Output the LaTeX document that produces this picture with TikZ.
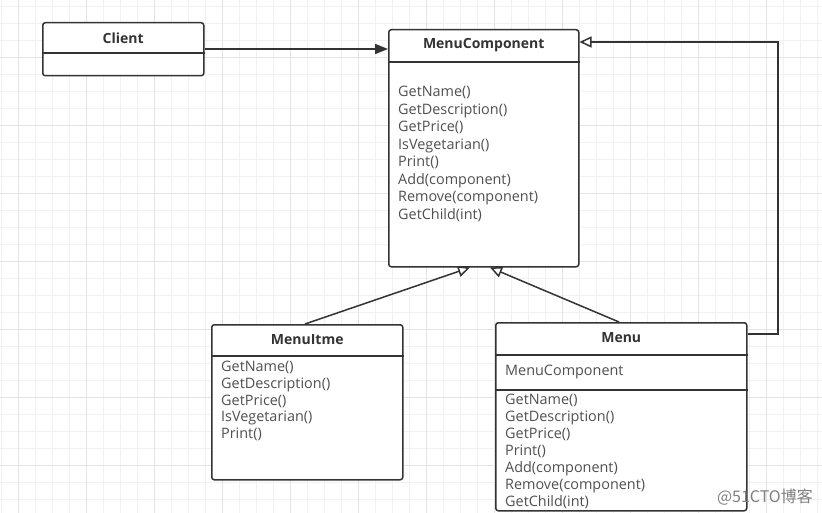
\documentclass[tikz,border=0pt]{standalone}
\usepackage{fontspec}
\setmainfont{Open Sans}
\newfontfamily\cjk{Noto Sans CJK SC}
\usetikzlibrary{arrows.meta,calc}
\definecolor{gridminor}{HTML}{F1F1F1}
\definecolor{gridmajor}{HTML}{E4E4E4}
\definecolor{linecol}{HTML}{333333}
\definecolor{txtcol}{HTML}{505050}
\tikzset{
  umlbox/.style={draw=linecol, line width=1.5pt, rounded corners=2.5pt, fill=white, anchor=north west, inner sep=0pt},
  titletxt/.style={font=\bfseries\fontsize{14}{16}\selectfont, text=linecol, inner sep=0pt},
  methtxt/.style={font=\fontsize{14.4}{17.5}\selectfont, text=txtcol, align=left, anchor=north west, inner sep=0pt},
  divider/.style={draw=linecol, line width=1.5pt},
  conn/.style={draw=linecol, line width=1.5pt},
  gen/.style={conn, -{Triangle[open, length=12pt, width=11pt, fill=white]}},
  assoc/.style={conn, -{Triangle[length=13pt, width=10pt]}},
}
\begin{document}
\begin{tikzpicture}[x=1pt,y=-1pt]
\useasboundingbox (0,0) rectangle (822,513);
\fill[white] (0,0) rectangle (822,513);
% grid
\foreach \i in {0,...,49} {
  \draw[gridminor, line width=0.8pt] ({1+17*\i},0) -- ({1+17*\i},513);
}
\foreach \j in {0,...,30} {
  \draw[gridminor, line width=0.8pt] (0,{6+17*\j}) -- (822,{6+17*\j});
}
\foreach \i in {0,...,12} {
  \draw[gridmajor, line width=0.9pt] ({18+68*\i},0) -- ({18+68*\i},513);
}
\foreach \j in {0,...,7} {
  \draw[gridmajor, line width=0.9pt] (0,{57+68*\j}) -- (822,{57+68*\j});
}

% Client
\node[umlbox, minimum width=161pt, minimum height=53pt] (client) at (42,22) {};
\draw[divider] ($(client.north west)+(0,31)$) -- ($(client.north east)+(0,31)$);
\node[titletxt] (clientT) at ($(client.north)+(0,16)$) {Client};

% MenuComponent
\node[umlbox, minimum width=190pt, minimum height=237pt] (mc) at (388,29) {};
\draw[divider] ($(mc.north west)+(0,33)$) -- ($(mc.north east)+(0,33)$);
\node[titletxt] (mcT) at ($(mc.north)+(0,16)$) {MenuComponent};
\node[methtxt] (mcM) at ($(mc.north west)+(10,57)$) {GetName()\\GetDescription()\\GetPrice()\\IsVegetarian()\\Print()\\Add(component)\\Remove(component)\\GetChild(int)};

% MenuItme
\node[umlbox, minimum width=191pt, minimum height=155pt] (mi) at (211,324) {};
\draw[divider] ($(mi.north west)+(0,32)$) -- ($(mi.north east)+(0,32)$);
\node[titletxt] (miT) at ($(mi.north)+(0,16)$) {MenuItme};
\node[methtxt, font=\fontsize{14.4}{16.7}\selectfont] (miM) at ($(mi.north west)+(10,37)$) {GetName()\\GetDescription()\\GetPrice()\\IsVegetarian()\\Print()};

% Menu
\node[umlbox, minimum width=251pt, minimum height=188pt] (menu) at (495,322) {};
\draw[divider] ($(menu.north west)+(0,33)$) -- ($(menu.north east)+(0,33)$);
\draw[divider] ($(menu.north west)+(0,68)$) -- ($(menu.north east)+(0,68)$);
\node[titletxt] (menuT) at ($(menu.north)+(0,16)$) {Menu};
\node[methtxt, anchor=west] (menuA) at ($(menu.north west)+(10,50)$) {MenuComponent};
\node[methtxt, font=\fontsize{14.4}{17}\selectfont] (menuM) at ($(menu.north west)+(10,72)$) {GetName()\\GetDescription()\\GetPrice()\\Print()\\Add(component)\\Remove(component)\\GetChild(int)};

% connectors
\draw[assoc] ($(client.north east)+(0,27)$) -- ($(mc.north west)+(0,20)$);
\draw[gen] ($(mi.north west)+(94,0)$) -- ($(mc.south west)+(82,0)$);
\draw[gen] ($(menu.north west)+(124,0)$) -- ($(mc.south west)+(102,0)$);
\coordinate (menuOut) at ($(menu.north east)+(0,12)$);
\coordinate (mcIn) at ($(mc.north east)+(0,13)$);
\coordinate (bend) at (778,42);
\draw[gen] (menuOut) -| (bend) -- (mcIn);

% watermark
\node[font=\cjk\fontsize{16}{18}\selectfont, text=black!50, anchor=east, inner sep=0pt] (wm) at (813,497) {@51CTO博客};
\end{tikzpicture}
\end{document}
